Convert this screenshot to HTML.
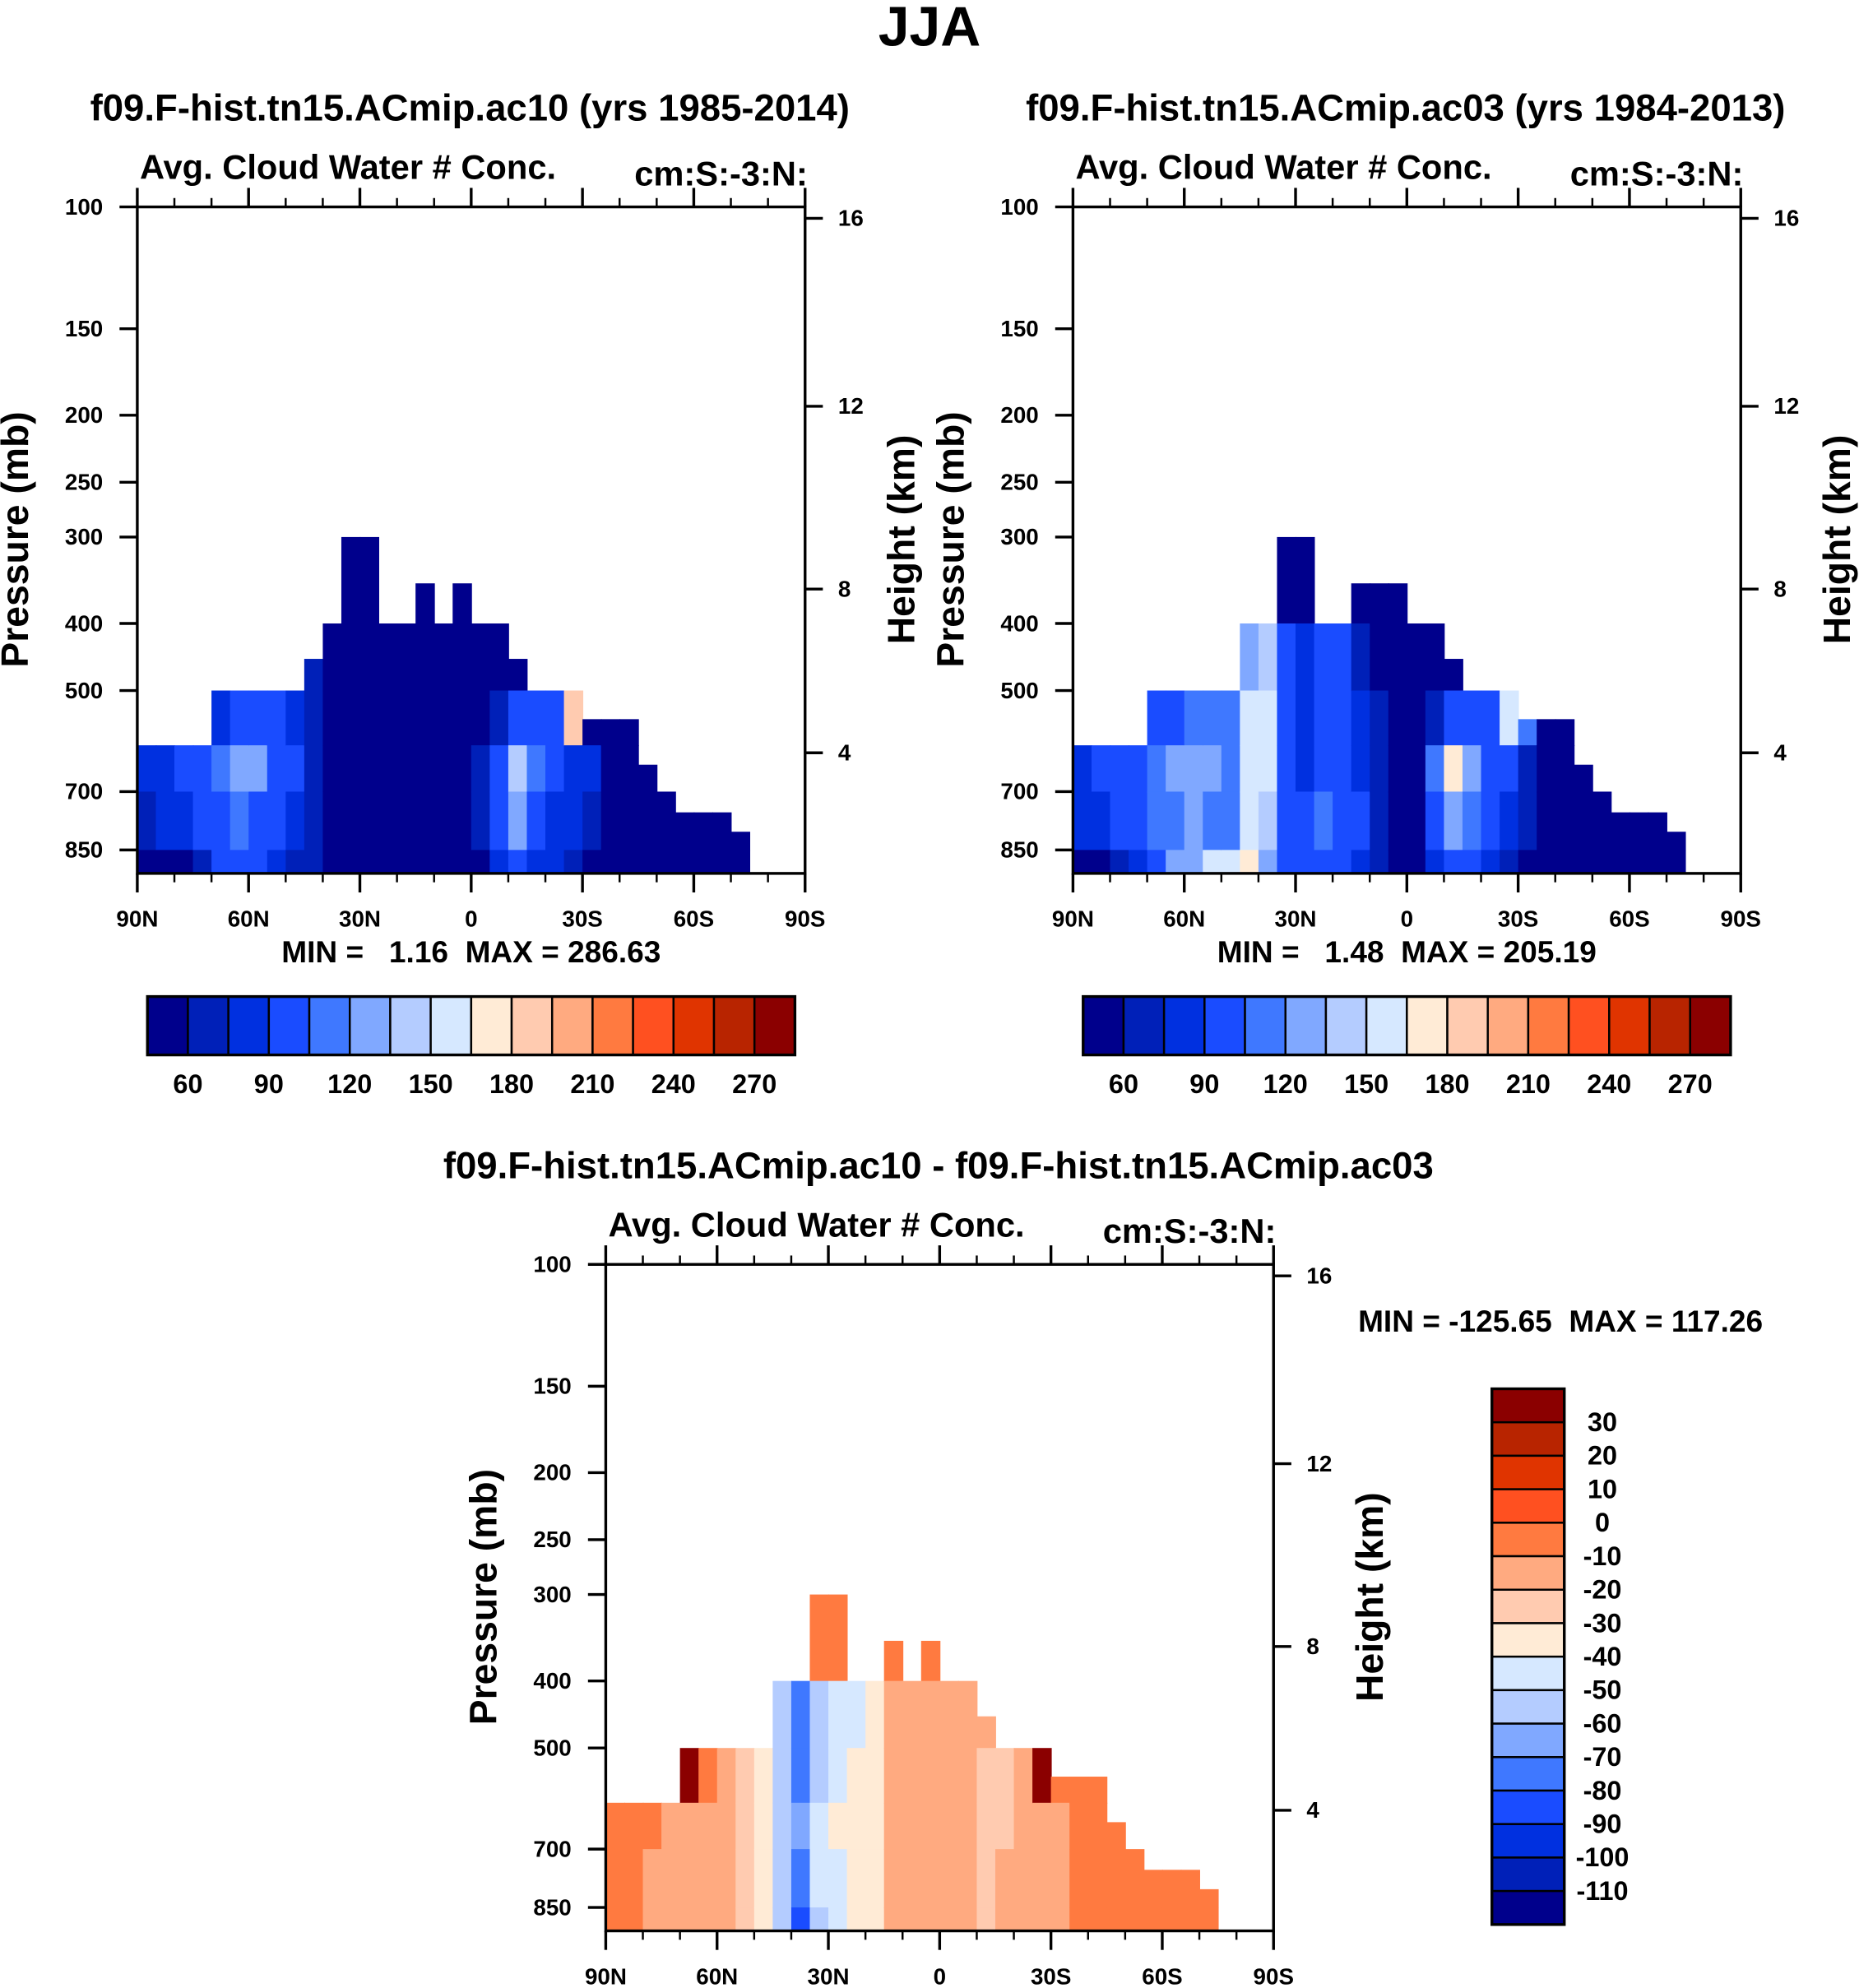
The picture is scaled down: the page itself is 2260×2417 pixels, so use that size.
<!DOCTYPE html>
<html><head><meta charset="utf-8"><style>
html,body{margin:0;padding:0;background:#fff}
svg{display:block}
text{font-family:"Liberation Sans",sans-serif;font-weight:bold;fill:#000}
</style></head><body>
<svg id="fig" xmlns="http://www.w3.org/2000/svg" width="2260" height="2417" viewBox="0 0 1464 1566">
<text x="732" y="36" font-size="44" text-anchor="middle">JJA</text>
</svg>
<script>
// ---- data ----
const latTicks = ["90N","60N","30N","0","30S","60S","90S"];
const presTicks = [100,150,200,250,300,400,500,700,850];
const heightTicks = [16,12,8,4];
const pBounds = [250,400,500,600,700,850,1000];
const tops1 = [600,600,600,600,500,500,500,500,500,450,400,300,300,400,400,350,400,350,400,400,450,500,500,500,550,550,550,640,700,750,750,750,800,2000,2000,2000];
const tops2 = [600,600,600,600,500,500,500,500,500,400,400,300,300,400,400,350,350,350,400,400,450,500,500,500,550,550,550,640,700,750,750,750,800,2000,2000,2000];
const tops3 = [600,600,600,600,500,500,500,500,500,400,400,300,300,400,400,350,400,350,400,400,450,500,500,500,550,550,550,640,700,750,750,750,800,2000,2000,2000];
const levels1 = [60,75,90,105,120,135,150,165,180,195,210,225,240,255,270];
const levels3 = [-110,-100,-90,-80,-70,-60,-50,-40,-30,-20,-10,0,10,20,30];
const a1rA = [40,40,40,40,40,40,40,40,40,40,40,40,40,40,40,40,40,40,40,40,40,40,40,40,40,40,40,40,40,40,40,40,40,40,40,40];
const a1r0 = [40,40,40,40,40,40,40,40,40,60,40,40,40,40,40,40,40,40,40,40,50,80,90,90,40,40,40,40,40,40,40,40,40,40,40,40];
const a1r1 = [40,40,40,40,80,90,100,90,80,70,40,40,40,40,40,40,40,40,50,70,90,100,100,180,50,40,40,40,40,40,40,40,40,40,40,40];
const a1r2 = [80,85,90,95,110,130,120,95,90,70,40,40,40,40,40,40,40,40,60,100,140,110,90,85,80,50,40,40,40,40,40,40,40,40,40,40];
const a1r3 = [70,75,85,90,100,110,100,90,85,65,40,40,40,40,40,40,40,40,60,90,120,95,85,75,60,40,40,40,40,40,40,40,40,40,40,40];
const a1r4 = [40,40,50,70,90,100,90,80,70,60,40,40,40,40,40,40,40,40,50,75,90,85,75,65,50,40,40,40,40,40,40,40,40,40,40,40];
const a2rA = [40,40,40,40,40,40,40,40,40,40,40,40,40,40,40,40,40,40,40,40,40,40,40,40,40,40,40,40,40,40,40,40,40,40,40,40];
const a2r0 = [40,40,40,40,40,40,40,40,40,130,140,90,80,100,90,60,40,40,40,40,40,60,40,40,40,40,40,40,40,40,40,40,40,40,40,40];
const a2r1 = [40,40,40,40,90,100,110,110,105,150,155,90,85,95,100,80,60,40,40,60,90,95,100,150,110,40,40,40,40,40,40,40,40,40,40,40];
const a2r2 = [80,90,95,100,110,120,125,120,115,150,150,95,85,90,95,85,70,40,50,110,170,120,95,90,70,40,40,40,40,40,40,40,40,40,40,40];
const a2r3 = [75,80,90,95,105,115,120,115,110,150,145,100,95,105,100,90,70,40,50,100,130,105,90,80,60,40,40,40,40,40,40,40,40,40,40,40];
const a2r4 = [40,45,60,80,100,120,130,150,160,165,120,100,90,95,90,80,65,40,50,80,100,90,80,70,55,40,40,40,40,40,40,40,40,40,40,40];
const a3rA = [-5,-5,-5,-5,-5,-5,-5,-5,-5,-60,-60,-5,-5,-5,-5,-5,-5,-5,-5,-5,-5,-5,-5,-5,-5,-5,-5,-5,-5,-5,-5,-5,-5,-5,-5,-5];
const a3r0 = [-5,-5,-5,-5,-5,-5,-5,-5,-5,-60,-80,-60,-50,-45,-40,-20,-15,-15,-15,-20,-20,-90,-20,-15,-5,-5,-5,-5,-5,-5,-5,-5,-5,-5,-5,-5];
const a3r1 = [-5,-5,-5,10,30,-10,-15,-30,-40,-55,-75,-55,-45,-40,-35,-20,-15,-15,-15,-20,-25,-25,-15,35,-5,-5,-5,-5,-5,-5,-5,-5,-5,-5,-5,-5];
const a3r2 = [-5,-5,-10,-15,-15,-15,-15,-25,-40,-55,-70,-50,-40,-35,-35,-20,-15,-15,-20,-15,-30,-25,-15,-15,-15,-10,-5,-5,-5,-5,-5,-5,-5,-5,-5,-5];
const a3r3 = [-5,-10,-15,-15,-15,-15,-15,-25,-40,-55,-75,-50,-45,-40,-35,-20,-15,-20,-15,-15,-25,-20,-15,-15,-15,-10,-5,-5,-5,-5,-5,-5,-5,-5,-5,-5];
const a3r4 = [-5,-5,-15,-15,-15,-15,-15,-25,-40,-60,-85,-55,-45,-40,-35,-20,-15,-20,-15,-15,-25,-20,-15,-15,-15,-10,-5,-5,-5,-5,-5,-5,-5,-5,-5,-5];
const cbTicks1 = [60,90,120,150,180,210,240,270];
const cbTicks3 = [30,20,10,0,-10,-20,-30,-40,-50,-60,-70,-80,-90,-100,-110];
const colors = ["#00008c","#0020b8","#0030e0","#1a4cff","#3f78ff","#80a8ff","#b4ccff","#d6e8ff","#ffebd6","#ffcbb0","#ffaa80","#ff7a40","#ff5020","#e03400","#b82400","#8b0000"];

const NS="http://www.w3.org/2000/svg";
const svg=document.getElementById('fig');
function el(tag,attrs,parent){const e=document.createElementNS(NS,tag);for(const k in attrs)e.setAttribute(k,attrs[k]);(parent||svg).appendChild(e);return e;}
function txt(x,y,s,size,anchor,parent,extra){const t=el('text',Object.assign({x:x,y:y,'font-size':size,'text-anchor':anchor||'middle'},extra||{}),parent);t.textContent=s;return t;}
function colorOf(v,levels){let i=0;for(const b of levels){if(v>=b)i++;}return colors[i];}

const W=526,H=525,K=545;
const pBot=Math.pow(10,2+H/K);
function panel(x0,y0,tops,rows,levels,title,name){
  const g=el('g',{});
  
  
  const yP=p=>y0+K*Math.log10(p/100);
  const xL=lat=>x0+(90-lat)/180*W;
  const nc=tops.length, cw=W/nc;
  for(let c=0;c<nc;c++){
    for(let r=0;r<rows.length;r++){
      const lo=Math.max(pBounds[r],tops[c]), hi=Math.min(pBounds[r+1],pBot);
      if(lo>=hi) continue;
      const y1=yP(lo), y2=yP(hi);
      const rc=el('rect',{x:(xL(90-c*180/nc)).toFixed(2),y:y1.toFixed(2),width:(cw+0.6).toFixed(2),height:(y2-y1+0.6).toFixed(2),fill:colorOf(rows[r][c],levels)},g);
      
      
    }
  }
  const fr=el('rect',{x:x0,y:y0,width:W,height:H,fill:'none',stroke:'#000','stroke-width':2.2},g);
  
  
  for(let i=0;i<=18;i++){
    const x=x0+i*W/18, major=i%3===0;
    el('line',{x1:x,x2:x,y1:y0+H,y2:y0+H+(major?15:7),stroke:'#000','stroke-width':major?2.2:1.6},g);
    el('line',{x1:x,x2:x,y1:y0,y2:y0-(major?15:7),stroke:'#000','stroke-width':major?2.2:1.6},g);
  }
  latTicks.forEach((s,i)=>{const t=txt(x0+i*W/6,y0+H+42,s,18,'middle',g);
    
    });
  presTicks.forEach(p=>{const y=yP(p);
    el('line',{x1:x0-14,x2:x0,y1:y,y2:y,stroke:'#000','stroke-width':2.2},g);
    const t=txt(x0-27,y+6,String(p),18,'end',g);
    
    });
  heightTicks.forEach((h,i)=>{const y=y0+9+ [0,148,292,421][i];
    el('line',{x1:x0+W,x2:x0+W+14,y1:y,y2:y,stroke:'#000','stroke-width':2.2},g);
    const t=txt(x0+W+26,y+6,String(h),18,'start',g);
    
    });
  const yt=txt(0,0,'Pressure (mb)',30,'middle',g,{transform:`translate(${x0-86},${y0+262}) rotate(-90)`});
  
  
  const rt=txt(0,0,'Height (km)',30,'middle',g,{transform:`translate(${x0+W+86},${y0+262}) rotate(-90)`});
  
  
  const st=txt(x0+2,y0-22,'Avg. Cloud Water # Conc.',27,'start',g);
  
  
  const un=txt(x0+W+2,y0-17,'cm:S:-3:N:',27,'end',g);
  
  
  const tt=txt(x0+W/2-1,y0-68,title,29.5,'middle',g);
  
  
}
function hbar(x0,y0,name){
  const g=el('g',{});
  
  
  const bw=510/16;
  colors.forEach((c,i)=>{const r=el('rect',{x:x0+i*bw,y:y0,width:bw,height:46,fill:c,stroke:'#000','stroke-width':1.6},g);
    
    });
  el('rect',{x:x0,y:y0,width:510,height:46,fill:'none',stroke:'#000','stroke-width':2.2},g);
  cbTicks1.forEach((v,i)=>{const t=txt(x0+(1+2*i)*bw,y0+76,String(v),21,'middle',g);
    
    });
}
panel(108,163,tops1,[a1rA,a1r0,a1r1,a1r2,a1r3,a1r4],levels1,'f09.F-hist.tn15.ACmip.ac10 (yrs 1985-2014)','panel-ac10');
panel(845,163,tops2,[a2rA,a2r0,a2r1,a2r2,a2r3,a2r4],levels1,'f09.F-hist.tn15.ACmip.ac03 (yrs 1984-2013)','panel-ac03');
panel(477,996,tops3,[a3rA,a3r0,a3r1,a3r2,a3r3,a3r4],levels3,'f09.F-hist.tn15.ACmip.ac10 - f09.F-hist.tn15.ACmip.ac03','panel-diff');
let m=txt(371,758,'MIN =   1.16  MAX = 286.63',24,'middle',null,{style:'white-space:pre'});

m=txt(1108,758,'MIN =   1.48  MAX = 205.19',24,'middle',null,{style:'white-space:pre'});

m=txt(1229,1049,'MIN = -125.65  MAX = 117.26',24,'middle',null,{style:'white-space:pre'});

hbar(116,785,'colorbar-ac10');
hbar(853,785,'colorbar-ac03');
(function(){
  const g=el('g',{});
  
  
  const x0=1175,y0=1094,h=422,bh=h/16;
  for(let i=0;i<16;i++){
    const r=el('rect',{x:x0,y:y0+i*bh,width:57,height:bh,fill:colors[15-i],stroke:'#000','stroke-width':1.6},g);
    
    
  }
  el('rect',{x:x0,y:y0,width:57,height:h,fill:'none',stroke:'#000','stroke-width':2.2},g);
  cbTicks3.forEach((v,i)=>{const t=txt(x0+87,y0+(i+1)*bh+7,String(v),21,'middle',g);
    
    });
})();
</script>
</body></html>
